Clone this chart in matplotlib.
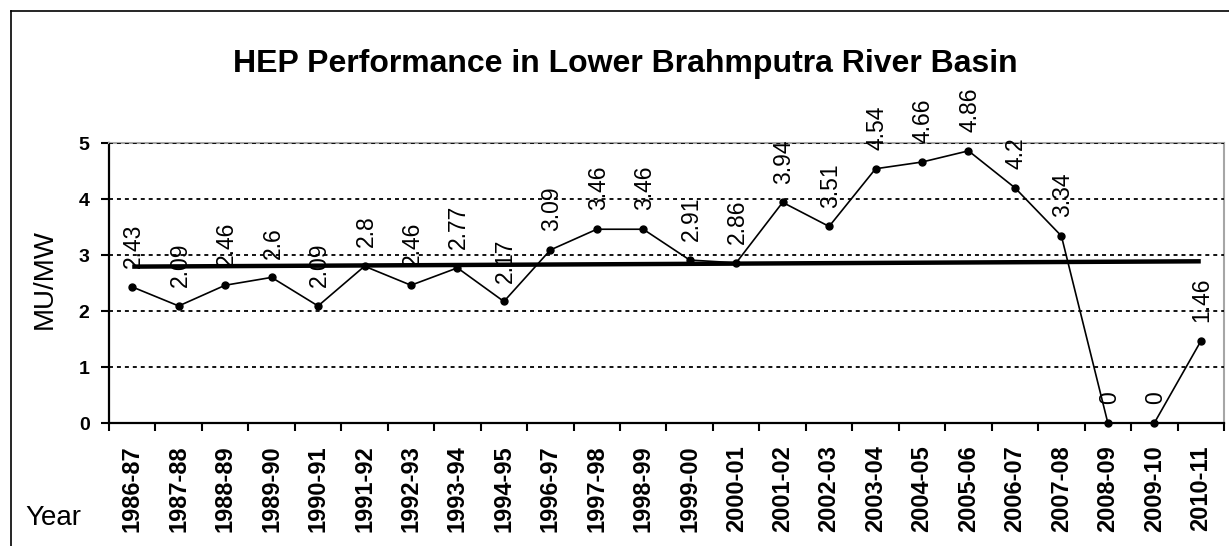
import numpy as np
import matplotlib
matplotlib.use("Agg")
import matplotlib.pyplot as plt
from matplotlib.lines import Line2D

years = ["1986-87", "1987-88", "1988-89", "1989-90", "1990-91", "1991-92",
         "1992-93", "1993-94", "1994-95", "1996-97", "1997-98", "1998-99",
         "1999-00", "2000-01", "2001-02", "2002-03", "2003-04", "2004-05",
         "2005-06", "2006-07", "2007-08", "2008-09", "2009-10", "2010-11"]
mu_mw = [2.43, 2.09, 2.46, 2.6, 2.09, 2.8, 2.46, 2.77, 2.17, 3.09, 3.46, 3.46,
         2.91, 2.86, 3.94, 3.51, 4.54, 4.66, 4.86, 4.2, 3.34, 0, 0, 1.46]
value_labels = ["2.43", "2.09", "2.46", "2.6", "2.09", "2.8", "2.46", "2.77",
                "2.17", "3.09", "3.46", "3.46", "2.91", "2.86", "3.94", "3.51",
                "4.54", "4.66", "4.86", "4.2", "3.34", "0", "0", "1.46"]
y_ticks = [0, 1, 2, 3, 4, 5]

plt.rcParams['font.family'] = ['Liberation Sans', 'DejaVu Sans']

W, H = 1229, 546
fig = plt.figure(figsize=(W / 100, H / 100), dpi=100)
fig.patch.set_facecolor('white')

left, right, top, bottom = 109, 1224, 143, 423
ax = fig.add_axes([left / W, 1 - bottom / H, (right - left) / W, (bottom - top) / H])

x = np.arange(len(years))
y = np.array(mu_mw)

# gridlines (dotted, drawn above the frame)
for t in y_ticks[1:]:
    ax.axhline(t, color='black', lw=1.3, ls=(0, (2.2, 2.2)), zorder=3)

# data line
ax.plot(x, y, color='black', lw=1.2, marker='o', ms=5, zorder=4, clip_on=False)

# linear trend line
coef = np.polyfit(x, y, 1)
ax.plot([x[0], x[-1]], np.polyval(coef, [x[0], x[-1]]), color='black', lw=3.2,
        solid_capstyle='butt', zorder=5)

# data labels
for xi, yi, lab in zip(x, y, value_labels):
    ax.annotate(lab, (xi, yi), xytext=(1, 13.5), textcoords='offset points',
                rotation=90, rotation_mode='anchor', ha='left', va='center',
                fontsize=16.5, color='black', zorder=6, annotation_clip=False)

ax.set_xlim(-0.5, len(years) - 0.5)
ax.set_ylim(0, 5)
ax.set_yticks(y_ticks)
ax.set_yticklabels([str(t) for t in y_ticks], fontsize=14, fontweight='bold')

ax.set_xticks(x)
ax.set_xticklabels(years, rotation=90, fontsize=17, fontweight='bold')
ax.set_xticks(np.arange(len(years) + 1) - 0.5, minor=True)
ax.tick_params(axis='x', which='major', length=0, pad=16)
ax.tick_params(axis='x', which='minor', length=6, width=1.5, direction='out')
ax.tick_params(axis='y', which='major', length=6, width=1.5, direction='out', pad=8)

for s in ['left', 'bottom']:
    ax.spines[s].set_color('black')
    ax.spines[s].set_linewidth(1.6)
for s in ['top', 'right']:
    ax.spines[s].set_color('#a6a6a6')
    ax.spines[s].set_linewidth(1.5)

# figure texts
fig.text(625.5 / W, 1 - 72 / H, "HEP Performance in Lower Brahmputra River Basin",
         ha='center', va='baseline', fontsize=23, fontweight='bold')
fig.text(45 / W, 1 - 279 / H, "MU/MW", rotation=90, ha='center', va='center',
         fontsize=20)
fig.text(25 / W, 1 - 525 / H, "Year", ha='left', va='baseline', fontsize=20)

# outer chart border (extends beyond the image at right and bottom)
fig.add_artist(Line2D([10.5 / W, 10.5 / W], [1 - 11 / H, -0.05], color='black',
                      lw=1.2, transform=fig.transFigure))
fig.add_artist(Line2D([10.5 / W, 1.05], [1 - 11 / H, 1 - 11 / H], color='black',
                      lw=1.2, transform=fig.transFigure))

fig.savefig('out.png', dpi=100)
